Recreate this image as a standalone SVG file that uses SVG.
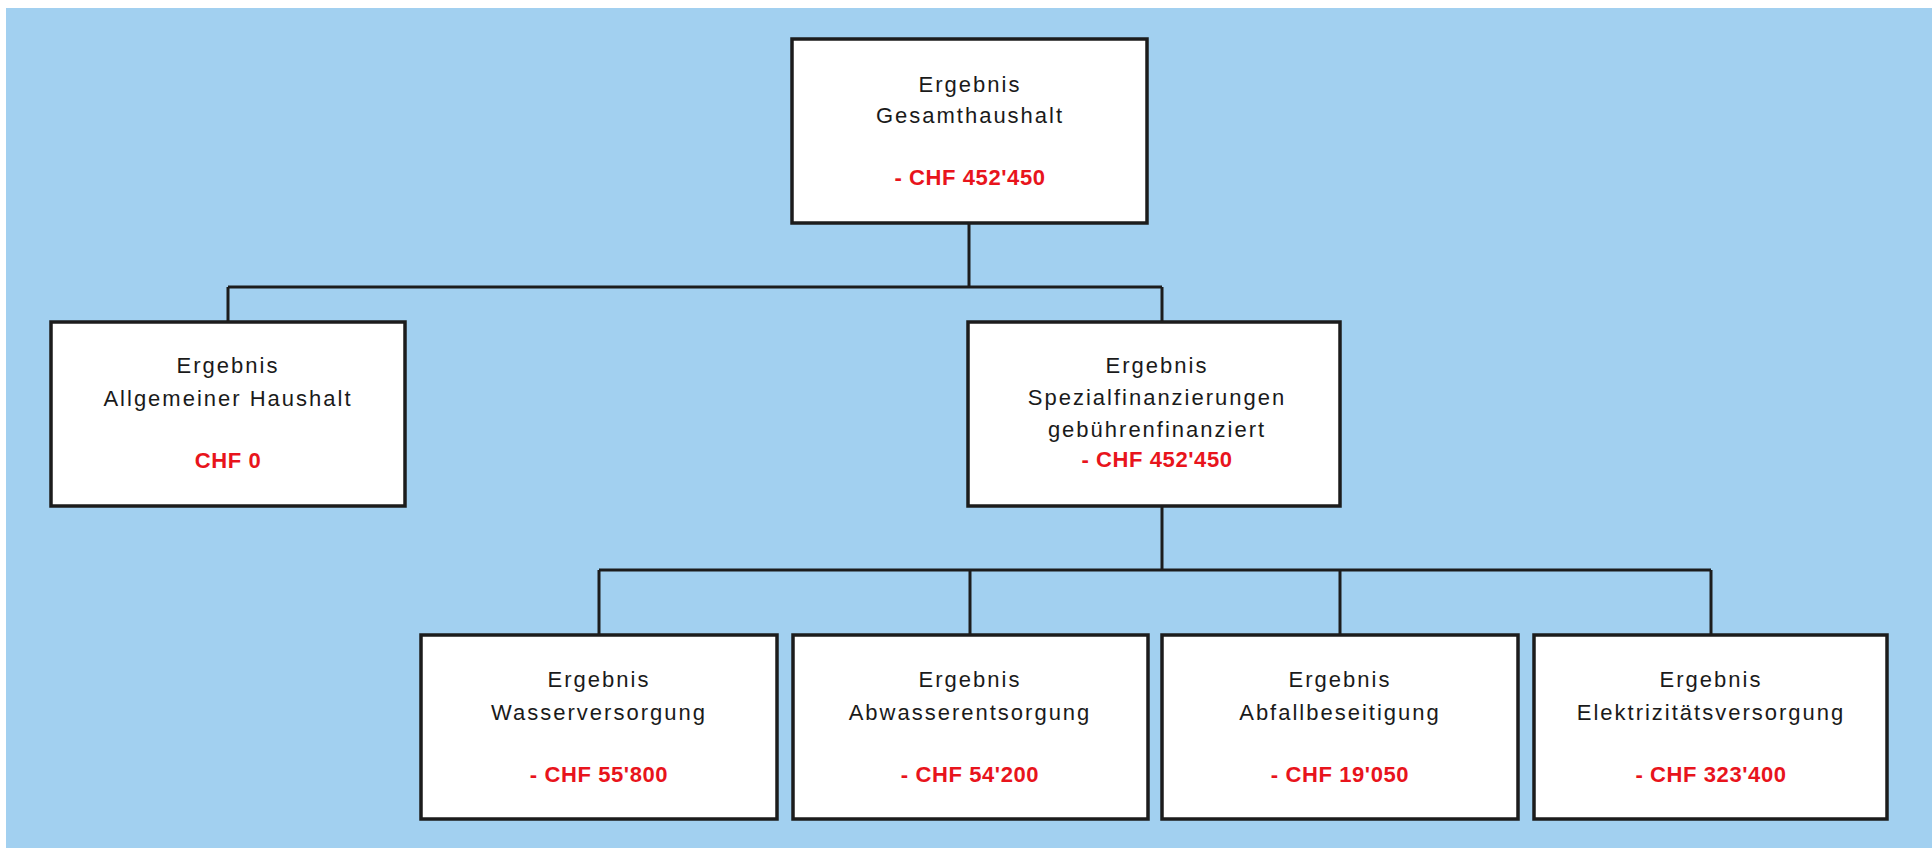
<svg xmlns="http://www.w3.org/2000/svg" width="1932" height="848" viewBox="0 0 1932 848">
<style>
.box{fill:#ffffff;stroke:#1c1c1c;stroke-width:3.5}
.conn{fill:none;stroke:#1c1c1c;stroke-width:3}
.lbl{font-family:"Liberation Sans",Arial,sans-serif;font-size:22px;fill:#1a1a1a;text-anchor:middle;letter-spacing:2px}
.val{font-family:"Liberation Sans",Arial,sans-serif;font-size:22px;font-weight:bold;fill:#e8141c;text-anchor:middle;letter-spacing:0.6px}
</style>
<rect x="0" y="0" width="1932" height="848" fill="#ffffff"/>
<rect x="6" y="8" width="1926" height="840" fill="#a2d0f0"/>
<g id="connectors">
<path class="conn" d="M969 223 V287 M228 287 H1162 M228 287 V322 M1162 287 V322"/>
<path class="conn" d="M1162 506 V570 M599 570 H1711 M599 570 V635 M970 570 V635 M1340 570 V635 M1711 570 V635"/>
</g>
<g id="n-gesamt">
<rect class="box" x="792" y="39" width="355" height="184"/>
<text class="lbl" x="970" y="92">Ergebnis</text>
<text class="lbl" x="970" y="123">Gesamthaushalt</text>
<text class="val" x="970" y="185">- CHF 452'450</text>
</g>
<g id="n-allgemein">
<rect class="box" x="51" y="322" width="354" height="184"/>
<text class="lbl" x="228" y="373">Ergebnis</text>
<text class="lbl" x="228" y="406">Allgemeiner Haushalt</text>
<text class="val" x="228" y="468">CHF 0</text>
</g>
<g id="n-spezial">
<rect class="box" x="968" y="322" width="372" height="184"/>
<text class="lbl" x="1157" y="373">Ergebnis</text>
<text class="lbl" x="1157" y="405">Spezialfinanzierungen</text>
<text class="lbl" x="1157" y="437">gebührenfinanziert</text>
<text class="val" x="1157" y="467">- CHF 452'450</text>
</g>
<g id="n-wasser">
<rect class="box" x="421" y="635" width="356" height="184"/>
<text class="lbl" x="599" y="687">Ergebnis</text>
<text class="lbl" x="599" y="720">Wasserversorgung</text>
<text class="val" x="599" y="782">- CHF 55'800</text>
</g>
<g id="n-abwasser">
<rect class="box" x="793" y="635" width="355" height="184"/>
<text class="lbl" x="970" y="687">Ergebnis</text>
<text class="lbl" x="970" y="720">Abwasserentsorgung</text>
<text class="val" x="970" y="782">- CHF 54'200</text>
</g>
<g id="n-abfall">
<rect class="box" x="1162" y="635" width="356" height="184"/>
<text class="lbl" x="1340" y="687">Ergebnis</text>
<text class="lbl" x="1340" y="720">Abfallbeseitigung</text>
<text class="val" x="1340" y="782">- CHF 19'050</text>
</g>
<g id="n-elektro">
<rect class="box" x="1534" y="635" width="353" height="184"/>
<text class="lbl" x="1711" y="687">Ergebnis</text>
<text class="lbl" x="1711" y="720">Elektrizitätsversorgung</text>
<text class="val" x="1711" y="782">- CHF 323'400</text>
</g>
</svg>
